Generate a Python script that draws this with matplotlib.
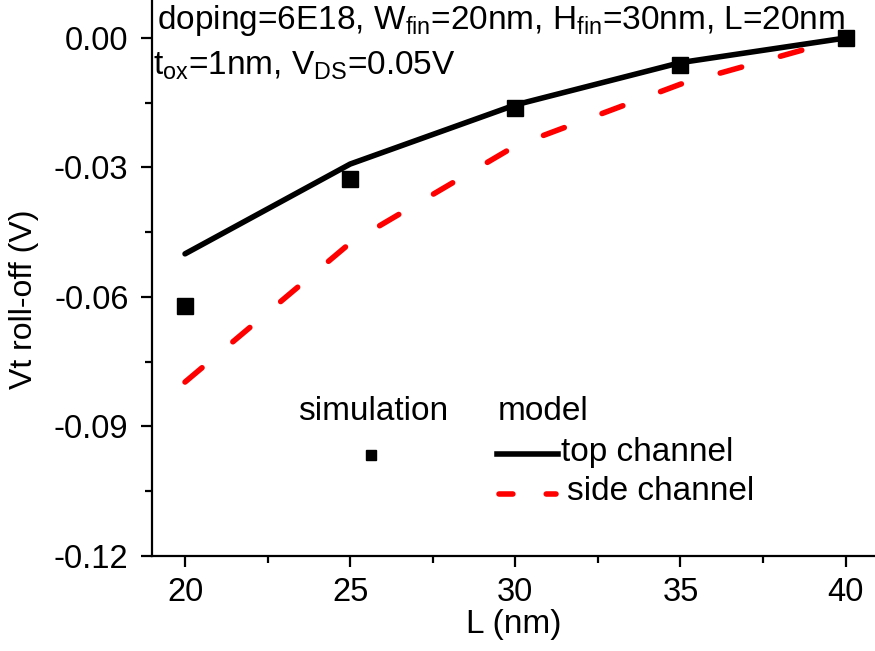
import matplotlib
matplotlib.use("Agg")
import matplotlib.pyplot as plt
from matplotlib.lines import Line2D

plt.rcParams['font.family'] = ['Liberation Sans', 'DejaVu Sans']
plt.rcParams['mathtext.fontset'] = 'custom'
plt.rcParams['mathtext.rm'] = 'Liberation Sans'
plt.rcParams['mathtext.it'] = 'Liberation Sans'
plt.rcParams['lines.scale_dashes'] = False

# Data
L_nm = [20, 25, 30, 35, 40]
sim_values = [-0.062, -0.0327, -0.0162, -0.0063, 0.0]
top_channel = [-0.050, -0.0292, -0.0155, -0.0057, 0.0]
side_channel = [-0.0797, -0.0475, -0.0250, -0.0107, 0.0]
xticks = [20, 25, 30, 35, 40]
yticks = [0.00, -0.03, -0.06, -0.09, -0.12]
ytick_labels = ['0.00', '-0.03', '-0.06', '-0.09', '-0.12']

W, H = 875, 651
fig = plt.figure(figsize=(W / 100, H / 100), dpi=100)
ax = fig.add_axes([152 / W, 1 - 556 / H, (W - 152) / W, 556 / H])

dash = (0, (16, 29))
ax.plot(L_nm, top_channel, color='black', lw=4.0, solid_capstyle='round', zorder=3)
ax.plot(L_nm, side_channel, color='#ff0000', lw=4.0, linestyle=dash,
        dash_capstyle='round', zorder=3)
ax.plot(L_nm, sim_values, linestyle='none', marker='s', markersize=11.5,
        color='black', zorder=4)

ax.set_xlim(19, 19 + (W - 152) / 33.03)
ax.set_ylim(-0.12, 38 / 4316.7)
ax.set_xticks(xticks)
ax.set_xticks([22.5, 27.5, 32.5, 37.5], minor=True)
ax.set_yticks(yticks)
ax.set_yticklabels(ytick_labels)
ax.set_yticks([-0.015, -0.045, -0.075, -0.105], minor=True)

for s in ['top', 'right']:
    ax.spines[s].set_visible(False)
for s in ['left', 'bottom']:
    ax.spines[s].set_linewidth(1.6)

ax.tick_params(axis='both', which='major', direction='out', length=8, width=1.6,
               labelsize=23.5)
ax.tick_params(axis='both', which='minor', direction='out', length=5, width=1.6)
ax.tick_params(axis='y', pad=9)
ax.tick_params(axis='x', pad=7)

ax.set_xlabel('L (nm)', fontsize=24, labelpad=1)
ax.set_ylabel('Vt roll-off (V)', fontsize=23)
ax.yaxis.set_label_coords(-0.156, 0.462)

# Annotation
fig.text(157 / W, 1 - 20 / H,
         r'doping=6E18, W$_{\rm fin}$=20nm, H$_{\rm fin}$=30nm, L=20nm',
         fontsize=24, ha='left', va='center')
fig.text(153 / W, 1 - 66 / H, r't$_{\rm ox}$=1nm, V$_{\rm DS}$=0.05V',
         fontsize=24, ha='left', va='center')

# Custom legend
fs = 24
fig.text(298 / W, 1 - 411 / H, 'simulation', fontsize=fs, ha='left', va='center')
fig.text(498 / W, 1 - 411 / H, 'model', fontsize=fs, ha='left', va='center')
fig.add_artist(Line2D([371 / W], [1 - 455 / H], marker='s', markersize=7.5,
                      color='black', linestyle='none', transform=fig.transFigure))
fig.add_artist(Line2D([497 / W, 558 / W], [1 - 454 / H, 1 - 454 / H], color='black',
                      lw=4.0, transform=fig.transFigure))
fig.add_artist(Line2D([499 / W, 556 / W], [1 - 494 / H, 1 - 494 / H], color='#ff0000',
                      lw=4.0, linestyle=(0, (10, 24)), dash_capstyle='round',
                      transform=fig.transFigure))
fig.text(561 / W, 1 - 452 / H, 'top channel', fontsize=fs, ha='left', va='center')
fig.text(567 / W, 1 - 492 / H, 'side channel', fontsize=fs, ha='left', va='center')

fig.savefig('out.png', dpi=100)
